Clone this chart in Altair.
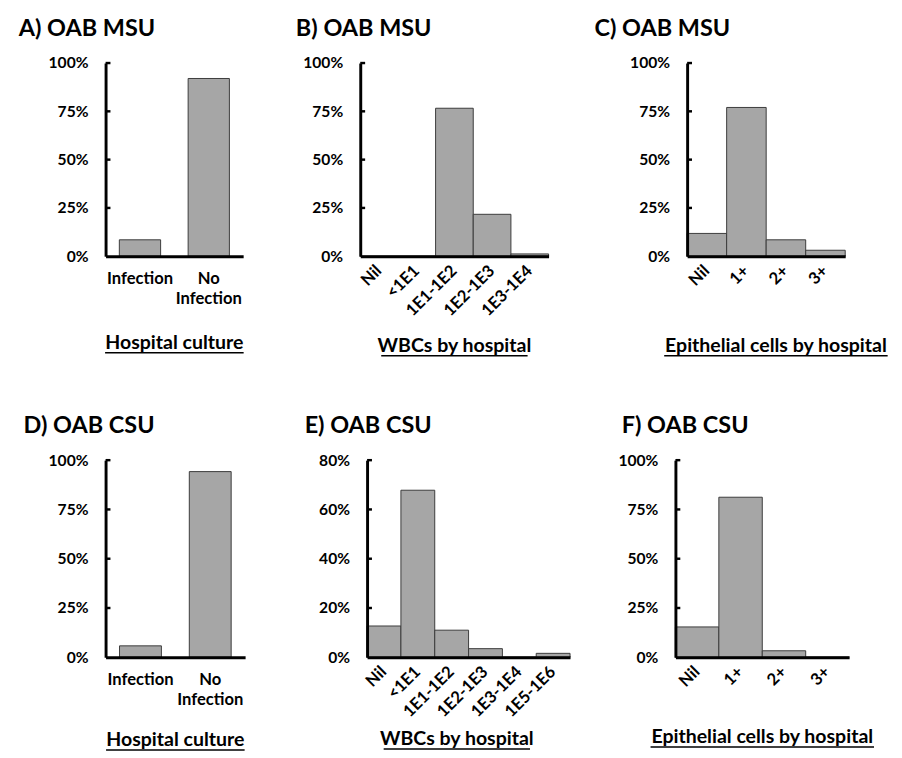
import altair as alt
import pandas as pd

FONT = "Lato"

panel_titles = ["A) OAB MSU", "B) OAB MSU", "C) OAB MSU", "D) OAB CSU", "E) OAB CSU", "F) OAB CSU"]
culture_cats = ["Infection", "No Infection"]
wbc_cats_msu = ["Nil", "<1E1", "1E1-1E2", "1E2-1E3", "1E3-1E4"]
wbc_cats_csu = ["Nil", "<1E1", "1E1-1E2", "1E2-1E3", "1E3-1E4", "1E5-1E6"]
epi_cats = ["Nil", "1+", "2+", "3+"]

a_vals = [8.5, 92.0]
b_vals = [0.0, 0.0, 76.6, 21.7, 1.2]
c_vals = [11.8, 77.0, 8.5, 3.1]
d_vals = [5.8, 94.2]
e_vals = [12.7, 67.8, 11.0, 3.5, 0.0, 1.6]
f_vals = [15.4, 81.2, 3.3, 0.0]

x_titles = ["Hospital culture", "WBCs by hospital", "Epithelial cells by hospital"]
y_ticks_100 = [0, 25, 50, 75, 100]
y_ticks_80 = [0, 20, 40, 60, 80]


def panel(title, cats, vals, xtitle, width, height, ymax, yticks, extent,
          title_dx, padded, rotate, ul_width, text_dy, text_dx=0):
    df = pd.DataFrame({"cat": cats, "pct": [v / 100 for v in vals]})
    if padded:
        xscale = alt.Scale(paddingInner=0.4, paddingOuter=0.2)
    else:
        xscale = alt.Scale(paddingInner=0, paddingOuter=0)
    common = dict(title=None, ticks=False, domainColor="black", domainWidth=3,
                  labelFont=FONT, labelFontSize=17, labelFontWeight="bold",
                  labelColor="black", grid=False, zindex=1, labelOverlap=False)
    if rotate:
        xaxis = alt.Axis(labelPadding=12, labelAngle=315, labelAlign="right",
                         labelBaseline="middle", **common)
    else:
        xaxis = alt.Axis(labelPadding=15, labelAngle=0, labelAlign="center",
                         labelBaseline="top", labelExpr="split(datum.label, ' ')",
                         labelLineHeight=20, **common)
    yscale = alt.Scale(domain=[0, ymax / 100])
    yaxis = alt.Axis(title=None, values=[t / 100 for t in yticks], format=".0%",
                     ticks=False, domainColor="black", domainWidth=3,
                     labelFont=FONT, labelFontSize=16, labelFontWeight="bold",
                     labelColor="black", labelPadding=18, grid=False,
                     minExtent=extent, maxExtent=extent, zindex=1)
    bars = alt.Chart(df).mark_bar(color="#a6a6a6", stroke="#3a3a3a", strokeWidth=1).encode(
        x=alt.X("cat:N", sort=cats, scale=xscale, axis=xaxis),
        y=alt.Y("pct:Q", scale=yscale, axis=yaxis),
    )
    tk = pd.DataFrame({"pct": [t / 100 for t in yticks[1:]]})
    ticks = alt.Chart(tk).mark_rule(color="black", strokeWidth=2.5).encode(
        x=alt.value(0), x2=alt.value(5), y=alt.Y("pct:Q", scale=yscale, axis=yaxis))
    tdf = pd.DataFrame({"t": [xtitle]})
    cx = width / 2 + text_dx
    txt = alt.Chart(tdf).mark_text(font=FONT, fontSize=20, fontWeight="bold", color="black",
                                   baseline="middle", align="center").encode(
        text="t:N", x=alt.value(cx), y=alt.value(height + text_dy))
    ul = alt.Chart(tdf).mark_rule(color="black", strokeWidth=1.5).encode(
        x=alt.value(cx - ul_width / 2), x2=alt.value(cx + ul_width / 2),
        y=alt.value(height + text_dy + 10))
    return alt.layer(bars, ticks, txt, ul).properties(
        width=width, height=height,
        title=alt.TitleParams(title, anchor="start", frame="group", dx=title_dx,
                              font=FONT, fontSize=24, fontWeight="bold", color="black",
                              offset=15),
    )


pA = panel(panel_titles[0], culture_cats, a_vals, x_titles[0], 141, 198, 100, y_ticks_100,
           95, -89, True, False, 142, 89)
pB = panel(panel_titles[1], wbc_cats_msu, b_vals, x_titles[1], 193, 198, 100, y_ticks_100,
           118, -66, False, True, 150, 92)
pC = panel(panel_titles[2], epi_cats, c_vals, x_titles[2], 162, 198, 100, y_ticks_100,
           141, -95, False, True, 229, 92, 10)
pD = panel(panel_titles[3], culture_cats, d_vals, x_titles[0], 143, 202, 100, y_ticks_100,
           84, -84, True, False, 142, 85)
pE = panel(panel_titles[4], wbc_cats_csu, e_vals, x_titles[1], 208, 202, 80, y_ticks_80,
           124, -64, False, True, 150, 84, -12)
pF = panel(panel_titles[5], epi_cats, f_vals, x_titles[2], 178, 202, 100, y_ticks_100,
           107, -55, False, True, 229, 82)

row1 = alt.hconcat(pA, pB, pC, spacing=0)
row2 = alt.hconcat(pD, pE, pF, spacing=0)
chart = alt.vconcat(row1, row2, spacing=59).properties(
    padding={"left": 5, "top": 0, "right": 5, "bottom": 5}
).configure(background="white").configure_view(stroke=None)

chart.save("out.html", embed_options={"renderer": "svg", "actions": False})
